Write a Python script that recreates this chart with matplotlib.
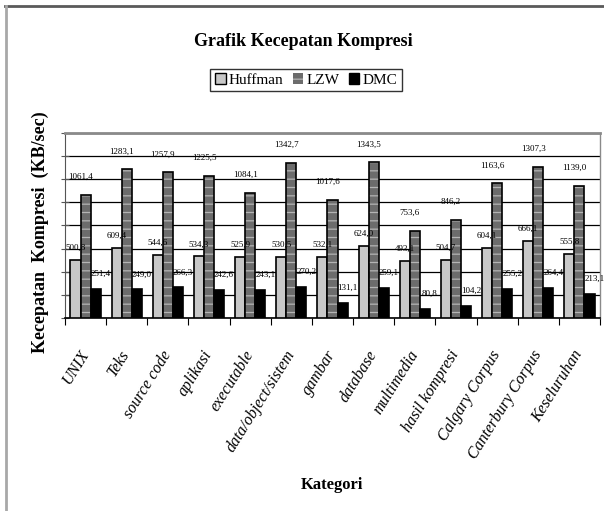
import numpy as np
import matplotlib
matplotlib.use("Agg")
import matplotlib.pyplot as plt
from matplotlib.lines import Line2D
from matplotlib.patches import Patch

plt.rcParams['font.family'] = ['Liberation Serif', 'DejaVu Serif']
plt.rcParams['hatch.linewidth'] = 0.9

kategori = ['UNIX', 'Teks', 'source code', 'aplikasi', 'executable',
            'data/object/sistem', 'gambar', 'database', 'multimedia',
            'hasil kompresi', 'Calgary Corpus', 'Canterbury Corpus',
            'Keseluruhan']
huffman = [500.8, 609.4, 544.6, 534.3, 525.9, 530.5, 532.1, 624.0, 493.1,
           504.7, 604.1, 666.1, 555.8]
lzw = [1061.4, 1283.1, 1257.9, 1225.5, 1084.1, 1342.7, 1017.6, 1343.5,
       753.6, 846.2, 1163.6, 1307.3, 1139.0]
dmc = [251.4, 249.0, 266.3, 242.6, 243.1, 270.2, 131.1, 259.1, 80.8,
       104.2, 255.2, 264.4, 213.1]

W, H = 604, 511
fig = plt.figure(figsize=(W / 100, H / 100), dpi=100)
fig.patch.set_facecolor('white')

# page frame lines
fig.add_artist(Line2D([5 / W, 1], [1 - 6 / H, 1 - 6 / H], transform=fig.transFigure,
                      color='#5a5a5a', lw=2))
fig.add_artist(Line2D([6 / W, 6 / W], [0, 1 - 6 / H], transform=fig.transFigure,
                      color='#a8a8a8', lw=2))

ax = fig.add_axes([65 / W, 1 - 318.3 / H, 535 / W, 185.6 / H])
x = np.arange(len(kategori))
w = 0.245

def fmt(v):
    return f"{v:.1f}".replace('.', ',')

b1 = ax.bar(x - w, huffman, w, color='#c8c8c8', edgecolor='black', lw=1.2, zorder=3)
# striped LZW bars: light hatch layer, then black outline on top
ax.bar(x, lzw, w, color='#6c6c6c', edgecolor='#b4b4b4', lw=0, hatch='--', zorder=3)
b2 = ax.bar(x, lzw, w, fill=False, edgecolor='black', lw=1.2, zorder=4)
b3 = ax.bar(x + w, dmc, w, color='black', edgecolor='black', lw=1.2, zorder=3)

lab = dict(fontsize=6.5, ha='center', va='bottom', textcoords='offset pixels', zorder=5)
for i in range(len(x)):
    ax.annotate(fmt(huffman[i]), (x[i] - w, huffman[i]), xytext=(0, 8), **lab)
    ax.annotate(fmt(lzw[i]), (x[i], lzw[i]), xytext=(-5, 14), **lab)
    ax.annotate(fmt(dmc[i]), (x[i] + w, dmc[i]), xytext=(5, 11), **lab)

ax.set_xlim(-0.5, len(x) - 0.5)
ax.set_ylim(0, 1600)
ax.set_yticks(np.arange(0, 1601, 200))
ax.set_yticklabels([])
ax.tick_params(axis='y', direction='inout', length=6, width=0.8, color='#555555')
ax.yaxis.grid(True, color='black', lw=0.9, zorder=1)

ax.set_xticks(x)
ax.set_xticklabels(kategori, rotation=58, ha='right', va='center',
                   rotation_mode='anchor', fontsize=11.5, style='italic')
ax.tick_params(axis='x', which='major', length=0, pad=24)
ax.set_xticks(np.arange(-0.5, len(x), 1), minor=True)
ax.tick_params(axis='x', which='minor', length=5, width=0.8, direction='out')

for s in ['top', 'right']:
    ax.spines[s].set_color('#8a8a8a')
ax.spines['top'].set_linewidth(2)
ax.spines['right'].set_linewidth(1)
ax.spines['left'].set_color('#555555')
ax.spines['bottom'].set_color('black')
ax.spines['bottom'].set_linewidth(1.2)

fig.text(303 / W, 1 - 42 / H, 'Grafik Kecepatan Kompresi', ha='center', va='center',
         fontsize=13, fontweight='bold')
fig.text(40 / W, 1 - 232 / H, 'Kecepatan  Kompresi  (KB/sec)', rotation=90,
         ha='center', va='center', fontsize=13, fontweight='bold')
fig.text(332 / W, 1 - 485 / H, 'Kategori', ha='center', va='center',
         fontsize=12, fontweight='bold')

handles = [Patch(facecolor='#c8c8c8', edgecolor='black', lw=1),
           Patch(facecolor='#6c6c6c', edgecolor='#b4b4b4', hatch='--', lw=0),
           Patch(facecolor='black', edgecolor='black', lw=1)]
leg = fig.legend(handles, ['Huffman', 'LZW', 'DMC'], loc='center',
                 bbox_to_anchor=(306 / W, 1 - 80 / H), ncol=3, fontsize=11,
                 frameon=True, fancybox=False, edgecolor='black',
                 handlelength=0.7, handleheight=0.7, handletextpad=0.2,
                 columnspacing=0.6, borderpad=0.3)
leg.get_frame().set_linewidth(1)

fig.savefig('out.png', dpi=100)
